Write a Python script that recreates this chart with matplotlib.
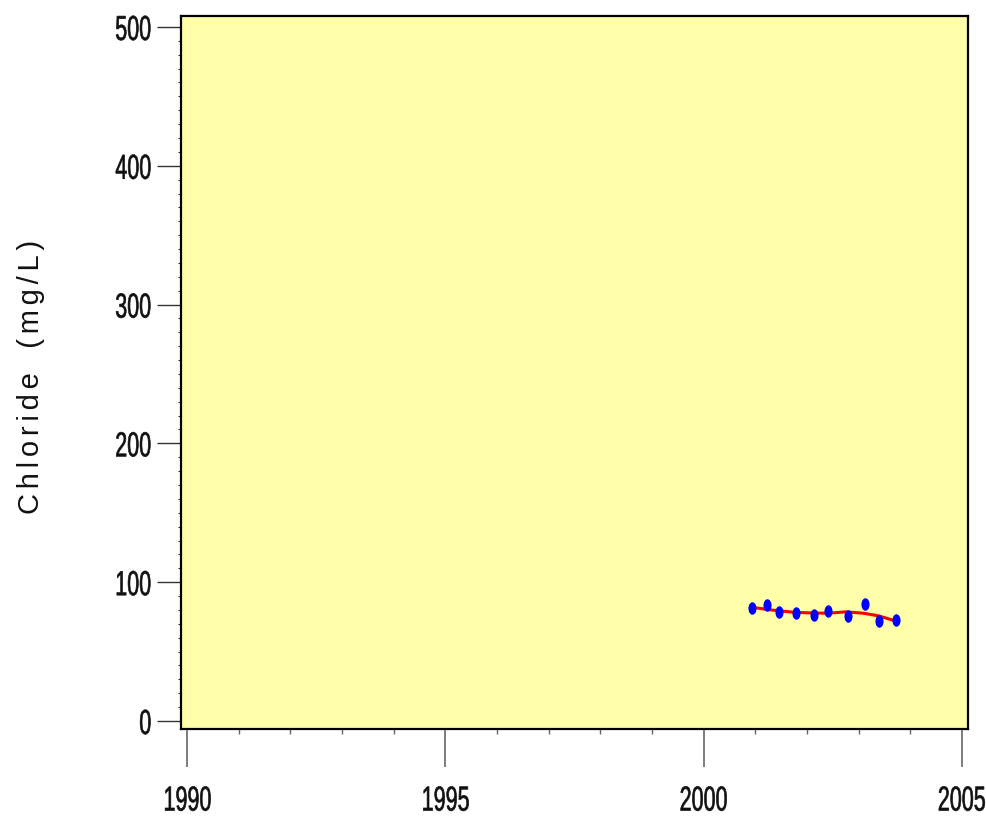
import matplotlib
matplotlib.use("Agg")
import matplotlib.pyplot as plt
from matplotlib.path import Path
from matplotlib.transforms import Affine2D
from matplotlib.ticker import MultipleLocator
from matplotlib.patheffects import AbstractPathEffect

# Chloride samples (decimal year, mg/L)
sample_years = [2000.93, 2001.22, 2001.45, 2001.78, 2002.13,
                2002.40, 2002.79, 2003.12, 2003.39, 2003.72]
chloride = [81.2, 83.6, 78.7, 77.6, 76.6, 79.5, 75.6, 84.3, 71.8, 72.8]

# Smoothed trend through the samples
trend_years = [2000.93, 2001.3, 2001.75, 2002.1, 2002.4, 2002.75, 2003.1, 2003.4, 2003.72]
trend_values = [81.9, 80.0, 78.3, 77.8, 77.6, 78.6, 77.6, 75.6, 72.0]

x_ticks = [1990, 1995, 2000, 2005]
y_ticks = [0, 100, 200, 300, 400, 500]


class Condense(AbstractPathEffect):
    """Squeeze glyph outlines horizontally around an anchor, with a light outline."""

    def __init__(self, sx=0.65, anchor="center", stroke=0.0):
        super().__init__()
        self.sx = sx
        self.anchor = anchor
        self.stroke = stroke

    def draw_path(self, renderer, gc, tpath, affine, rgbFace=None):
        ext = tpath.get_extents()
        disp = affine.transform([[ext.x0, ext.y0], [ext.x1, ext.y1]])
        if self.anchor == "right":
            ax0 = max(disp[0, 0], disp[1, 0])
        else:
            ax0 = 0.5 * (disp[0, 0] + disp[1, 0])
        squeeze = Affine2D().translate(-ax0, 0).scale(self.sx, 1.0).translate(ax0, 0)
        gc0 = renderer.new_gc()
        gc0.copy_properties(gc)
        if self.stroke > 0 and rgbFace is not None:
            gc0.set_linewidth(self.stroke)
            gc0.set_foreground(rgbFace)
        renderer.draw_path(gc0, tpath, affine + squeeze, rgbFace)
        gc0.restore()


num_font = ["Liberation Sans", "DejaVu Sans"]

fig = plt.figure(figsize=(9.87, 8.17), dpi=100)
ax = fig.add_axes([0.1834, 0.1077, 0.7974, 0.8727])
ax.set_facecolor("#ffffaa")

ellipse = Path.unit_circle().transformed(Affine2D().scale(0.65, 1.0))

ax.plot(trend_years, trend_values, color="#ff0000", lw=2.2, zorder=3)
ax.plot(sample_years, chloride, linestyle="none", marker=ellipse,
        markersize=9, color="#0000ff", markeredgewidth=0, zorder=4)

ax.set_xlim(1989.88, 2005.12)
ax.set_ylim(-5.8, 507.9)

ax.set_xticks(x_ticks)
ax.set_xticklabels([str(v) for v in x_ticks])
ax.xaxis.set_minor_locator(MultipleLocator(1))
ax.set_yticks(y_ticks)
ax.set_yticklabels([str(v) for v in y_ticks])
ax.yaxis.set_minor_locator(MultipleLocator(10))

ax.tick_params(axis="x", which="major", direction="out", length=27, width=1.2,
               color="#666666", pad=13)
ax.tick_params(axis="x", which="minor", direction="out", length=3.5, width=1.0,
               color="#666666")
ax.tick_params(axis="y", which="major", direction="out", length=17, width=1.0,
               color="#333333", pad=4)
ax.tick_params(axis="y", which="minor", direction="out", length=2, width=0.8,
               color="#333333")

for lbl in ax.get_xticklabels():
    lbl.set_family(num_font)
    lbl.set_fontsize(25)
    lbl.set_color("#111111")
    lbl.set_path_effects([Condense(0.62, "center", stroke=0.45)])
for lbl in ax.get_yticklabels():
    lbl.set_family(num_font)
    lbl.set_fontsize(25)
    lbl.set_color("#111111")
    lbl.set_path_effects([Condense(0.62, "right", stroke=0.45)])

for sp in ax.spines.values():
    sp.set_linewidth(1.6)
    sp.set_color("black")

gap = "\u200a\u200a"
ylabel = gap.join("Chloride") + "   " + gap.join("(mg/L)")
fig.text(0.031, 0.5385, ylabel, rotation=90,
         ha="center", va="center", fontsize=21,
         family=["Liberation Sans", "DejaVu Sans"], color="#111111")

fig.savefig("out.png", dpi=100)
